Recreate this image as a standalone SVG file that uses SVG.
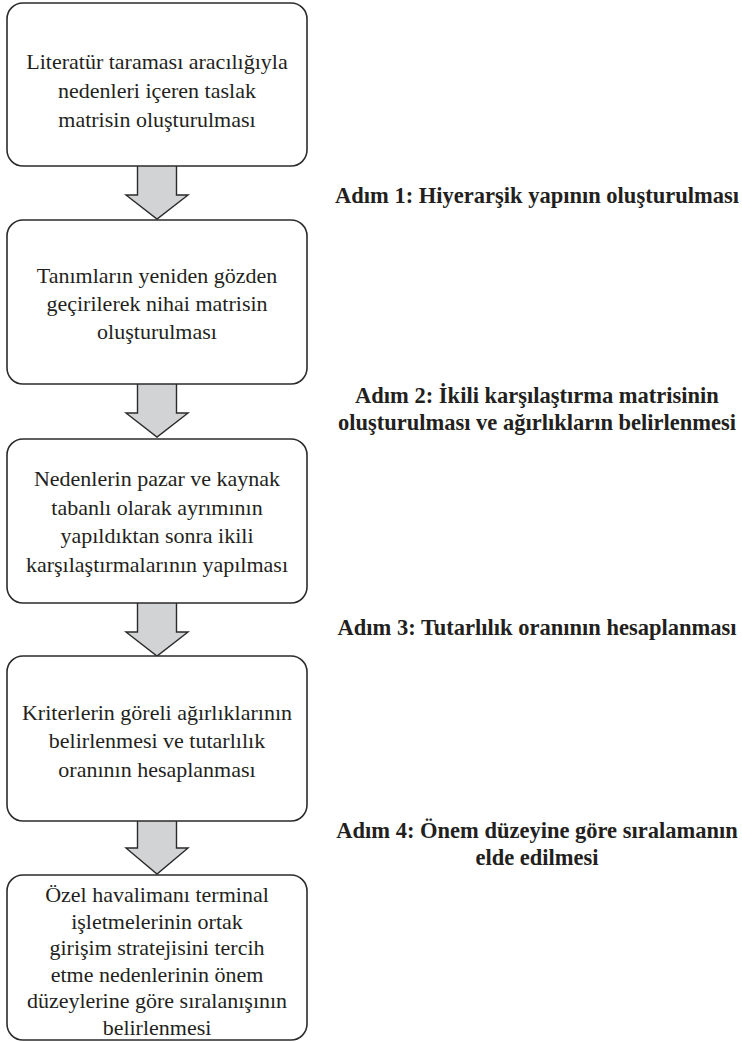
<svg xmlns="http://www.w3.org/2000/svg" width="742" height="1042" viewBox="0 0 742 1042">
<style>
.box{fill:#fff;stroke:#2b2b2b;stroke-width:1.6}
.arr{fill:#d2d3d5;stroke:#2b2b2b;stroke-width:1.4;stroke-linejoin:miter}
.t{font-family:"Liberation Serif","Times New Roman",serif;font-size:22px;fill:#231f20;text-anchor:middle}
.lb{font-family:"Liberation Serif","Times New Roman",serif;font-size:22.5px;font-weight:bold;fill:#231f20;text-anchor:middle}
</style>
<rect width="742" height="1042" fill="#fff"/>
<g id="connectors">
<path class="arr" d="M137.5,166 V195 H126 L157,219 L188,195 H176.5 V166"/>
<path class="arr" d="M137.5,384 V413 H126 L157,437 L188,413 H176.5 V384"/>
<path class="arr" d="M137.5,603 V632 H126 L157,656 L188,632 H176.5 V603"/>
<path class="arr" d="M137.5,821 V848 H126 L157,874 L188,848 H176.5 V821"/>
</g>
<g id="n1">
<rect class="box" x="7" y="3" width="300" height="163" rx="16"/>
<text class="t" x="157" y="69">Literatür taraması aracılığıyla</text>
<text class="t" x="157" y="98">nedenleri içeren taslak</text>
<text class="t" x="157" y="127">matrisin oluşturulması</text>
</g>
<g id="n2">
<rect class="box" x="7" y="220" width="300" height="164" rx="16"/>
<text class="t" x="157" y="283">Tanımların yeniden gözden</text>
<text class="t" x="157" y="311">geçirilerek nihai matrisin</text>
<text class="t" x="157" y="339">oluşturulması</text>
</g>
<g id="n3">
<rect class="box" x="7" y="439" width="300" height="164" rx="16"/>
<text class="t" x="157" y="486">Nedenlerin pazar ve kaynak</text>
<text class="t" x="157" y="515">tabanlı olarak ayrımının</text>
<text class="t" x="157" y="543">yapıldıktan sonra ikili</text>
<text class="t" x="157" y="572">karşılaştırmalarının yapılması</text>
</g>
<g id="n4">
<rect class="box" x="7" y="656" width="300" height="165" rx="16"/>
<text class="t" x="157" y="720">Kriterlerin göreli ağırlıklarının</text>
<text class="t" x="157" y="748">belirlenmesi ve tutarlılık</text>
<text class="t" x="157" y="777">oranının hesaplanması</text>
</g>
<g id="n5">
<rect class="box" x="7" y="875" width="300" height="165" rx="16"/>
<text class="t" x="157" y="902">Özel havalimanı terminal</text>
<text class="t" x="157" y="928.5">işletmelerinin ortak</text>
<text class="t" x="157" y="955">girişim stratejisini tercih</text>
<text class="t" x="157" y="981.5">etme nedenlerinin önem</text>
<text class="t" x="157" y="1008">düzeylerine göre sıralanışının</text>
<text class="t" x="157" y="1034.5">belirlenmesi</text>
</g>
<g id="labels">
<text class="lb" x="537" y="203">Adım 1: Hiyerarşik yapının oluşturulması</text>
<text class="lb" x="537" y="403">Adım 2: İkili karşılaştırma matrisinin</text>
<text class="lb" x="537" y="430">oluşturulması ve ağırlıkların belirlenmesi</text>
<text class="lb" x="537" y="635">Adım 3: Tutarlılık oranının hesaplanması</text>
<text class="lb" x="537" y="838">Adım 4: Önem düzeyine göre sıralamanın</text>
<text class="lb" x="537" y="865">elde edilmesi</text>
</g>
</svg>
